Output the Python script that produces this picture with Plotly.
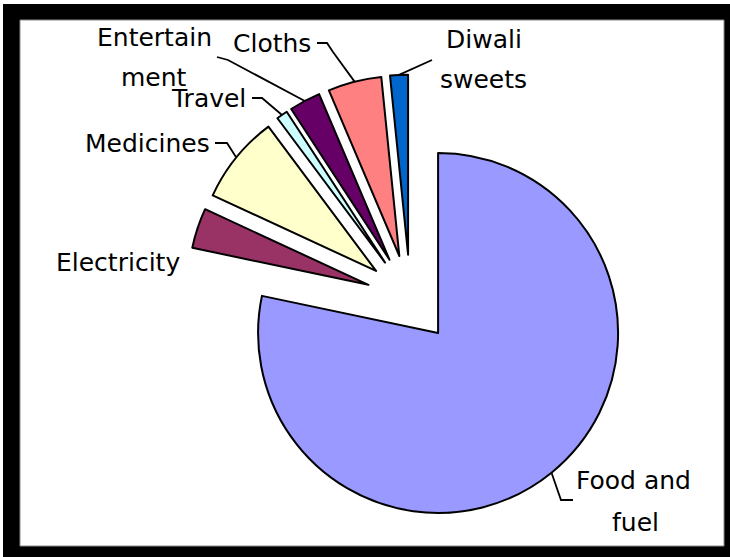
import math
import plotly.graph_objects as go

# Monthly household spending shares (%)
categories = ["Food and fuel", "Electricity", "Medicines", "Travel",
              "Entertainment", "Cloths", "Diwali sweets"]
shares = [78.3, 3.6, 7.9, 1.0, 2.8, 4.8, 1.6]
slice_colors = ["#9999FF", "#993366", "#FFFFCC", "#CCFFFF",
                "#660066", "#FF8080", "#0066CC"]

# Label text lines for each category
label_lines = [["Food and", "fuel"], ["Electricity"], ["Medicines"], ["Travel"],
               ["Entertain", "ment"], ["Cloths"], ["Diwali", "sweets"]]

# ---- layout geometry (pixels) ----
W, H = 730, 557
CX, CY = 410.3, 298.7      # pie centre
R = 180                    # slice radius
PULL = 0.245               # explosion, fraction of radius
half = R * (1 + PULL)      # plotly shrinks r by (1 + max pull)


def px(x):
    return x / W


def py(y):
    return 1 - y / H


# label centres (px) for each text line, and leader paths on the label side
label_pos = [[(633.5, 480.4), (635, 522)], [(118, 262.5)], [(147.5, 143.4)],
             [(208, 98.4)], [(154.5, 37.4), (153.5, 77)], [(272, 44)],
             [(484, 39.5), (483.5, 79.5)]]
leader_label_side = [[(573, 500), (561, 500)], None, [(215, 143), (227, 143)],
                     [(252, 98), (262, 98)], [(217, 57), (228, 60)],
                     [(317, 43), (327, 43), (333, 52)], [(432, 60)]]

fig = go.Figure()

fig.add_trace(go.Pie(
    labels=categories,
    values=shares,
    sort=False,
    direction="clockwise",
    rotation=0,
    pull=[PULL] * len(shares),
    marker=dict(colors=slice_colors, line=dict(color="black", width=2)),
    textinfo="none",
    hoverinfo="label+percent",
    showlegend=False,
    domain=dict(x=[px(CX - half), px(CX + half)],
                y=[py(CY + half), py(CY - half)]),
))

shapes = [
    # outer black frame and white chart area
    dict(type="rect", xref="paper", yref="paper", x0=px(3), x1=1, y0=0, y1=py(4),
         fillcolor="black", line=dict(width=0), layer="below"),
    dict(type="rect", xref="paper", yref="paper", x0=px(20), x1=px(724),
         y0=py(546), y1=py(20), fillcolor="white",
         line=dict(color="#8a8a8a", width=1), layer="below"),
]

# leader lines: from label to the middle of each exploded slice's arc
total = sum(shares)
cum = 0.0
for v, side in zip(shares, leader_label_side):
    mid = 2 * math.pi * (cum + v / 2) / total
    cum += v
    if side is None:
        continue
    ax = CX + (1 + PULL) * R * math.sin(mid)
    ay = CY - (1 + PULL) * R * math.cos(mid)
    pts = list(side) + [(ax, ay)]
    path = "M " + " L ".join(f"{px(x):.5f},{py(y):.5f}" for x, y in pts)
    shapes.append(dict(type="path", xref="paper", yref="paper", path=path,
                       line=dict(color="black", width=1.8)))

annotations = []
for lines, positions in zip(label_lines, label_pos):
    for text, (x, y) in zip(lines, positions):
        annotations.append(dict(
            text=text, x=px(x), y=py(y), xref="paper", yref="paper",
            xanchor="center", yanchor="middle", showarrow=False,
            font=dict(family="DejaVu Sans", size=25, color="black")))

fig.update_layout(
    width=W, height=H,
    margin=dict(l=0, r=0, t=0, b=0),
    paper_bgcolor="white",
    plot_bgcolor="white",
    shapes=shapes,
    annotations=annotations,
)

fig.write_html("out.html")
